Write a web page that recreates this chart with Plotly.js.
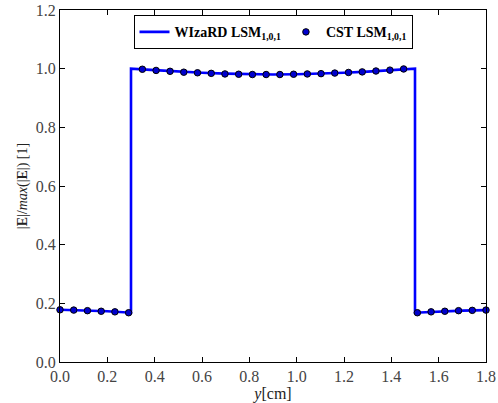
<!DOCTYPE html>
<html><head><meta charset="utf-8">
<script src="https://cdn.plot.ly/plotly-3.0.1.min.js"></script>
<style>html,body{margin:0;padding:0;background:#fff;}#chart{width:498px;height:403px;}</style>
</head><body><div id="chart"></div>
<script>
// WIzaRD line (step-shaped profile)
const wizardX = [0, 0.1, 0.2, 0.3, 0.3, 0.4, 0.5, 0.6, 0.7, 0.8, 0.9, 1.0, 1.1, 1.2, 1.3, 1.4, 1.5, 1.5, 1.6, 1.7, 1.8];
const wizardY = [0.178, 0.176, 0.173, 0.168, 1.0, 0.995, 0.990, 0.986, 0.983, 0.981, 0.980, 0.981, 0.983, 0.986, 0.990, 0.995, 1.0, 0.168, 0.172, 0.175, 0.177];
// CST points
const cstX = [0.000, 0.058, 0.116, 0.174, 0.232, 0.290, 0.348, 0.406, 0.465, 0.523, 0.581, 0.639, 0.697, 0.755, 0.813, 0.871,
              0.929, 0.987, 1.045, 1.103, 1.161, 1.219, 1.277, 1.335, 1.394, 1.452, 1.510, 1.568, 1.626, 1.684, 1.742, 1.800];
const cstY = [0.178, 0.177, 0.175, 0.173, 0.171, 0.168, 0.998, 0.994, 0.991, 0.988, 0.986, 0.984, 0.982, 0.981, 0.980, 0.980,
              0.980, 0.981, 0.982, 0.983, 0.985, 0.987, 0.989, 0.992, 0.995, 0.999, 0.168, 0.171, 0.173, 0.175, 0.176, 0.177];
const xTicks = [0.0, 0.2, 0.4, 0.6, 0.8, 1.0, 1.2, 1.4, 1.6, 1.8];
const yTicks = [0.0, 0.2, 0.4, 0.6, 0.8, 1.0, 1.2];

const font = '"Liberation Serif", "DejaVu Serif", serif';
const traces = [
  {x: wizardX, y: wizardY, mode: 'lines', name: '<b>WIzaRD LSM<sub>1,0,1</sub></b>',
   line: {color: '#0000ff', width: 2.6}, cliponaxis: false},
  {x: cstX, y: cstY, mode: 'markers', name: '<b>CST LSM<sub>1,0,1</sub></b>',
   marker: {color: '#0000cc', size: 6.5, line: {color: '#000', width: 1}}, cliponaxis: false}
];
const axisCommon = {showgrid: false, zeroline: false, showline: true, mirror: 'allticks', linecolor: '#000', linewidth: 1,
  ticks: 'inside', ticklen: 5, tickcolor: '#000', tickfont: {family: font, size: 16, color: '#444'}};
const layout = {
  width: 498, height: 403,
  margin: {l: 60, r: 12, t: 10, b: 41},
  paper_bgcolor: '#fff', plot_bgcolor: '#fff',
  font: {family: font},
  xaxis: Object.assign({}, axisCommon, {range: [0, 1.8], tickvals: xTicks, ticktext: xTicks.map(v => v.toFixed(1)),
    title: {text: '<i>y</i>[cm]', font: {family: font, size: 16, color: '#222'}, standoff: 2}}),
  yaxis: Object.assign({}, axisCommon, {range: [0, 1.2], tickvals: yTicks, ticktext: yTicks.map(v => v.toFixed(1)),
    title: {text: '|<b>E</b>|/<i>max</i>(|<b>E</b>|) [1]', font: {family: font, size: 14, color: '#222'}, standoff: 4}}),
  legend: {orientation: 'h', x: 0.5, xanchor: 'center', y: 0.985, yanchor: 'top',
    bgcolor: '#fff', bordercolor: '#000', borderwidth: 1, font: {family: font, size: 14, color: '#000'},
    itemwidth: 30, tracegroupgap: 0},
  showlegend: true
};
Plotly.newPlot('chart', traces, layout, {displayModeBar: false, staticPlot: true});
</script></body></html>
